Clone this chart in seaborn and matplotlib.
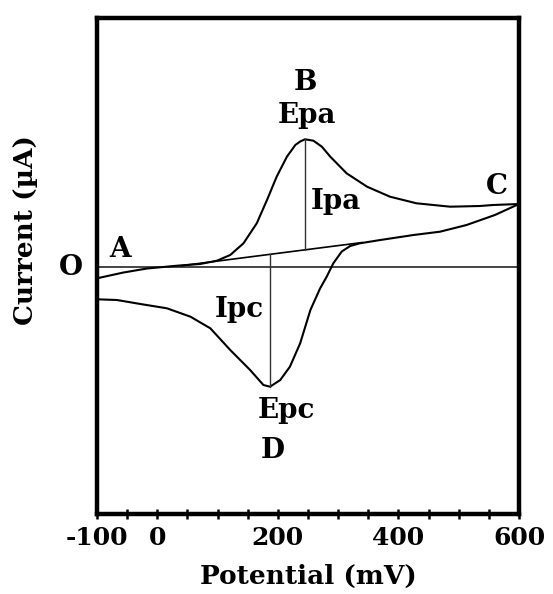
import numpy as np
import pandas as pd
import matplotlib
matplotlib.use("Agg")
import matplotlib.pyplot as plt
import seaborn as sns

# ---- data (potential in mV, current in arbitrary µA units) ----
fwd_potential = [-100, -56, -17, 33, 71, 99, 121, 143, 165, 182, 198, 215, 229, 237,
                 245, 259, 273, 287, 314, 348, 386, 430, 486, 535, 557, 600]
fwd_current = [-1.18, -0.60, -0.20, 0.08, 0.25, 0.58, 1.15, 2.32, 4.32, 6.65, 8.98,
               10.98, 12.15, 12.5, 12.72, 12.58, 11.98, 10.98, 9.32, 7.98, 6.98,
               6.32, 5.98, 6.05, 6.15, 6.25]

rev_potential = [600, 560, 513, 469, 425, 370, 336, 320, 306, 292, 281, 270, 254, 237,
                 220, 204, 187, 176, 154, 121, 88, 55, 16, -28, -67, -100]
rev_current = [6.25, 5.15, 4.15, 3.48, 3.15, 2.65, 2.32, 2.05, 1.5, 0.32, -1.02, -2.2,
               -4.35, -7.68, -10.02, -11.35, -12.02, -11.85, -10.35, -8.35, -6.18,
               -5.02, -4.18, -3.75, -3.35, -3.28]

baseline_potential = [40, 340]
baseline_current = [0.08, 2.4]

tick_values = [-100, -50, 0, 50, 100, 150, 200, 250, 300, 350, 400, 450, 500, 550, 600]
tick_labels = ["-100", "", "0", "", "", "", "200", "", "", "", "400", "", "", "", "600"]

# ---- build tables ----
fwd = pd.DataFrame({"Potential": fwd_potential, "Current": fwd_current, "scan": "forward"})
rev = pd.DataFrame({"Potential": rev_potential, "Current": rev_current, "scan": "reverse"})

sns.set_theme(style="white")
plt.rcParams["font.family"] = ["DejaVu Serif"]
plt.rcParams["font.weight"] = "bold"
plt.rcParams["text.color"] = "black"
plt.rcParams["axes.labelcolor"] = "black"
plt.rcParams["xtick.color"] = "black"
plt.rcParams["xtick.labelcolor"] = "black"

fig = plt.figure(figsize=(5.53, 5.94), dpi=100)
ax = fig.add_axes([97 / 553, 1 - 514 / 594, 422 / 553, 496 / 594])

# zero line
ax.axhline(0, color="#444444", lw=1.4, zorder=1)

sns.lineplot(data=fwd, x="Potential", y="Current", sort=False, color="black",
             lw=1.5, ax=ax, legend=False, estimator=None)
sns.lineplot(data=rev, x="Potential", y="Current", sort=False, color="black",
             lw=1.5, ax=ax, legend=False, estimator=None)
ax.plot(baseline_potential, baseline_current, color="black", lw=1.2)

# peak current lines
ipa_i = int(np.argmax(fwd_current))
epa = fwd_potential[ipa_i]
ipc_i = int(np.argmin(rev_current))
epc = rev_potential[ipc_i]
ax.plot([epa, epa], [fwd_current[ipa_i], np.interp(epa, baseline_potential, baseline_current)],
        color="#333333", lw=1.0)
ax.plot([epc, epc], [rev_current[ipc_i], np.interp(epc, baseline_potential, baseline_current)],
        color="#333333", lw=1.0)

ax.set_xlim(-100, 600)
ax.set_ylim(-24.75, 24.85)
ax.set_yticks([])
ax.set_xticks(tick_values)
ax.set_xticklabels(tick_labels)
ax.tick_params(axis="x", direction="inout", length=7, width=1.8, color="black",
               labelcolor="black", labelsize=18, pad=5, bottom=True)
for lab in ax.get_xticklabels():
    lab.set_fontweight("bold")

for s in ax.spines.values():
    s.set_visible(True)
    s.set_color("black")
    s.set_linewidth(3.2)

ax.set_xlabel("Potential (mV)", fontsize=19, fontweight="bold", va="top", color="black")
ax.xaxis.set_label_coords(0.5, -0.1)
ax.set_ylabel("Current (µA)", fontsize=19, fontweight="bold", ha="center", va="center",
              color="black")
ax.yaxis.set_label_coords(-0.17, 0.5726)

tk = dict(fontsize=20, fontweight="bold", ha="center", va="baseline", color="black")
ax.text(-61, 0.98, "A", **tk)
ax.text(245, 17.65, "B", **tk)
ax.text(249, 14.35, "Epa", **tk)
ax.text(297, 5.75, "Ipa", **tk)
ax.text(563, 7.25, "C", **tk)
ax.text(136, -5.05, "Ipc", **tk)
ax.text(214, -15.15, "Epc", **tk)
ax.text(192, -19.15, "D", **tk)
ax.text(-144, -0.85, "O", clip_on=False, **tk)

fig.savefig("out.png", dpi=100)
